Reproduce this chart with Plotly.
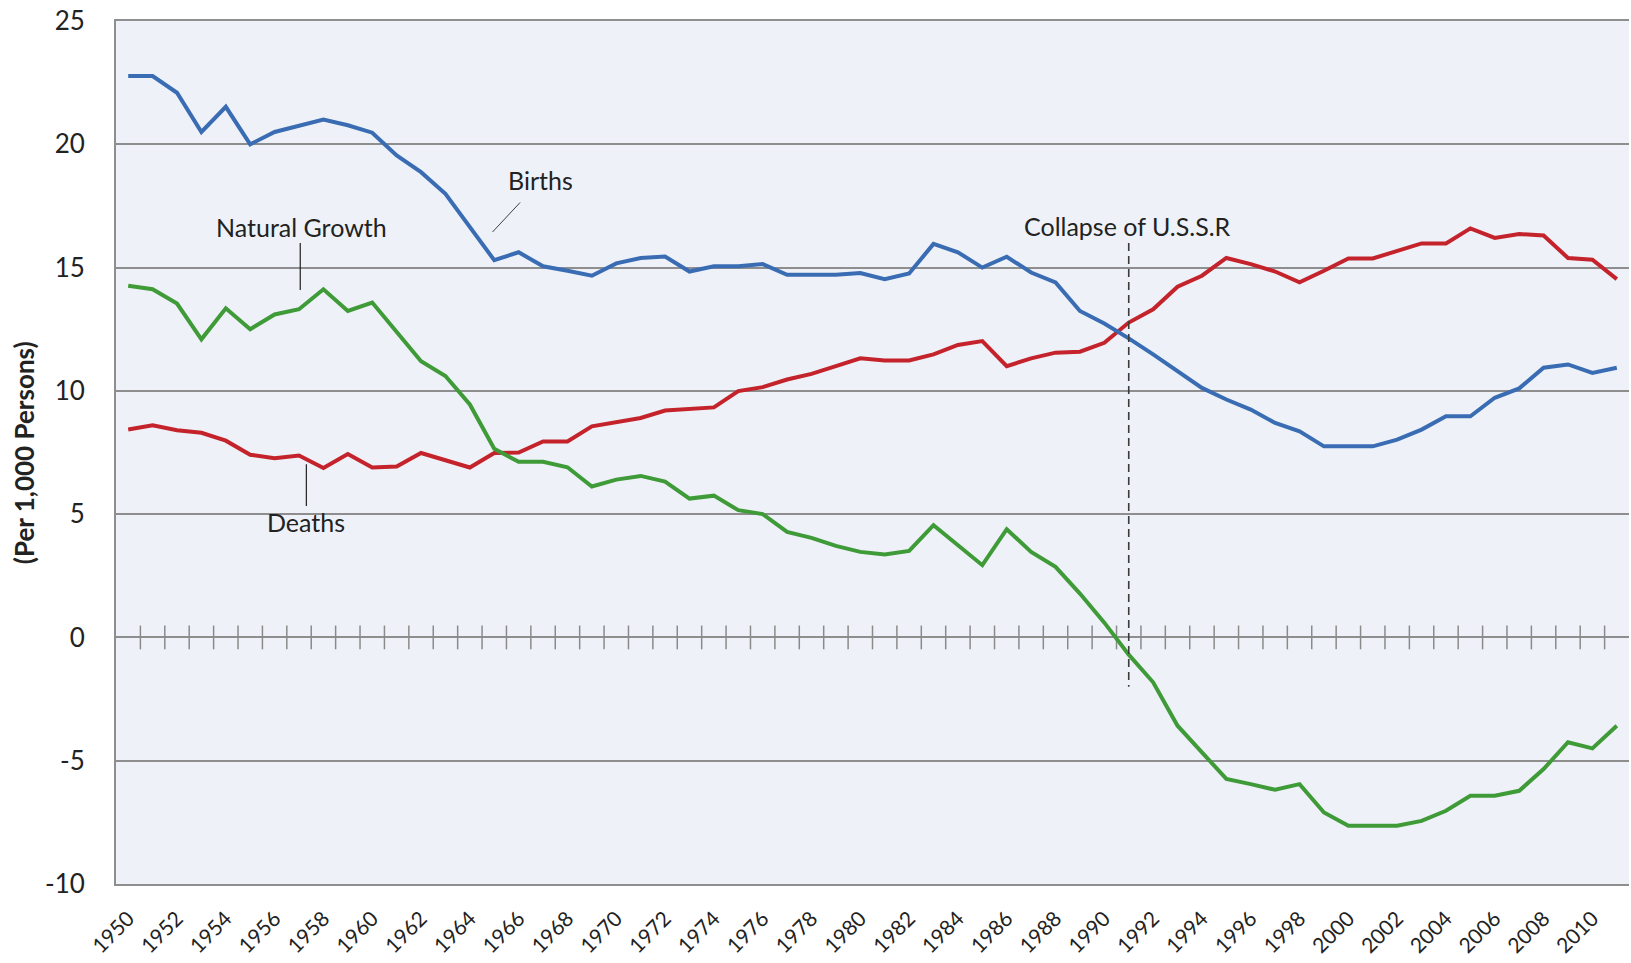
import plotly.graph_objects as go

years = list(range(1950, 2012))

births = [22.77, 22.77, 22.09, 20.5, 21.52, 20.0, 20.5, 20.73, 21.0, 20.77,
          20.47, 19.55, 18.87, 17.99, 16.63, 15.3, 15.62, 15.05, 14.87, 14.67,
          15.17, 15.39, 15.45, 14.84, 15.05, 15.05, 15.14, 14.71, 14.71, 14.71,
          14.78, 14.53, 14.76, 15.96, 15.62, 15.0, 15.44, 14.8, 14.4, 13.24,
          12.73, 12.13, 11.48, 10.8, 10.12, 9.65, 9.24, 8.7, 8.36, 7.75,
          7.75, 7.75, 8.02, 8.43, 8.97, 8.97, 9.72, 10.1, 10.94, 11.07,
          10.73, 10.94]

deaths = [8.43, 8.6, 8.4, 8.3, 7.98, 7.41, 7.27, 7.38, 6.87, 7.44,
          6.89, 6.93, 7.48, 7.17, 6.89, 7.48, 7.5, 7.95, 7.95, 8.56,
          8.74, 8.9, 9.2, 9.28, 9.33, 9.99, 10.15, 10.46, 10.69, 11.0,
          11.32, 11.23, 11.23, 11.48, 11.86, 12.02, 11.0, 11.32, 11.55, 11.59,
          11.95, 12.77, 13.31, 14.22, 14.67, 15.39, 15.14, 14.84, 14.4, 14.87,
          15.37, 15.37, 15.69, 15.98, 15.98, 16.59, 16.2, 16.36, 16.3, 15.39,
          15.32, 14.53]

natural_growth = [14.26, 14.12, 13.54, 12.09, 13.35, 12.5, 13.1, 13.31, 14.12, 13.24,
                  13.58, 12.36, 11.2, 10.6, 9.45, 7.65, 7.12, 7.12, 6.9, 6.12,
                  6.4, 6.55, 6.32, 5.63, 5.75, 5.16, 5.0, 4.28, 4.04, 3.71,
                  3.47, 3.36, 3.51, 4.55, 3.74, 2.93, 4.39, 3.47, 2.86, 1.78,
                  0.6, -0.7, -1.82, -3.58, -4.66, -5.74, -5.95, -6.18, -5.95, -7.1,
                  -7.64, -7.64, -7.64, -7.44, -7.03, -6.42, -6.42, -6.22, -5.34, -4.25,
                  -4.5, -3.58]

tick_years = list(range(1950, 2011, 2))
y_ticks = [-10, -5, 0, 5, 10, 15, 20, 25]
y_ticktext = ["-10", "-5", "0", "5", "10", "15", "20", "25"]
category_bounds = [y + 0.5 for y in range(1950, 2011)]

collapse_year = 1991
collapse_span = [16.0, -2.0]

FONT = "Lato"
TXT = "#222222"
GRID = "#8e8e8e"

fig = go.Figure()

# crossing tick marks on the zero line (category boundaries)
fig.add_trace(go.Scatter(
    x=category_bounds, y=[0] * len(category_bounds), mode="markers",
    marker=dict(symbol="line-ns", size=17, line=dict(width=1.5, color="#8a8a8a")),
    hoverinfo="skip", showlegend=False))

fig.add_trace(go.Scatter(x=years, y=deaths, mode="lines", name="Deaths",
                         line=dict(color="#c4232b", width=4), showlegend=False))
fig.add_trace(go.Scatter(x=years, y=births, mode="lines", name="Births",
                         line=dict(color="#3a6cb4", width=4), showlegend=False))
fig.add_trace(go.Scatter(x=years, y=natural_growth, mode="lines", name="Natural Growth",
                         line=dict(color="#3f9a38", width=4), showlegend=False))

# collapse of USSR dashed line
fig.add_trace(go.Scatter(x=[collapse_year, collapse_year], y=collapse_span, mode="lines",
                         line=dict(color="#3a3a3a", width=1.6, dash="8px,5px"),
                         hoverinfo="skip", showlegend=False))

ann_font = dict(family=FONT, size=25, color=TXT)
annotations = [
    dict(x=1966.06, y=17.64, ax=1964.87, ay=16.38, xref="x", yref="y", axref="x", ayref="y",
         text="", showarrow=True, arrowhead=0, arrowwidth=1, arrowcolor="#404040"),
    dict(x=1966.9, y=18.55, text="Births", showarrow=False, font=ann_font,
         xref="x", yref="y"),
    dict(x=1957.05, y=16.0, ax=1957.05, ay=14.03, xref="x", yref="y", axref="x", ayref="y",
         text="", showarrow=True, arrowhead=0, arrowwidth=1.2, arrowcolor="#202020"),
    dict(x=1957.12, y=16.63, text="Natural Growth", showarrow=False, font=ann_font,
         xref="x", yref="y"),
    dict(x=1957.3, y=7.02, ax=1957.3, ay=5.27, xref="x", yref="y", axref="x", ayref="y",
         text="", showarrow=True, arrowhead=0, arrowwidth=1.2, arrowcolor="#202020"),
    dict(x=1957.3, y=4.7, text="Deaths", showarrow=False, font=ann_font,
         xref="x", yref="y"),
    dict(x=1990.93, y=16.67, text="Collapse of U.S.S.R", showarrow=False, font=ann_font,
         xref="x", yref="y"),
    dict(x=-0.061, y=0.5, xref="paper", yref="paper", text="<b>(Per 1,000 Persons)</b>",
         textangle=-90, showarrow=False, xanchor="center", yanchor="middle",
         font=dict(family=FONT, size=26, color=TXT)),
]

fig.update_layout(
    width=1631, height=963,
    margin=dict(l=116, r=2, t=21, b=79),
    paper_bgcolor="white",
    plot_bgcolor="#eef2f8",
    font=dict(family=FONT, color=TXT),
    annotations=annotations,
    xaxis=dict(range=[1949.5, 2011.5], tickmode="array", tickvals=tick_years,
               ticktext=[str(t) for t in tick_years], tickangle=-45,
               tickfont=dict(family=FONT, size=21, color=TXT),
               showgrid=False, zeroline=False, showline=True, mirror=True,
               linecolor=GRID, linewidth=2, ticks="outside", ticklen=12,
               tickcolor="rgba(0,0,0,0)"),
    yaxis=dict(range=[-10, 25], tickmode="array", tickvals=y_ticks, ticktext=y_ticktext,
               tickfont=dict(family=FONT, size=26, color=TXT),
               showgrid=True, gridcolor=GRID, gridwidth=2,
               zeroline=True, zerolinecolor=GRID, zerolinewidth=2,
               showline=True, linecolor=GRID, linewidth=2,
               ticks="outside", ticklen=24, tickcolor="rgba(0,0,0,0)"),
)

fig.write_html("out.html", config={"displayModeBar": False},
               post_script="document.body.style.margin='0px';")
